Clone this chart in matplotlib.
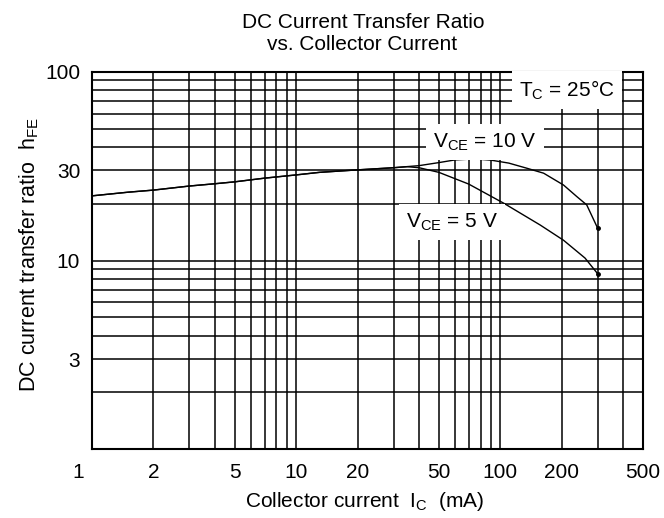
import matplotlib
matplotlib.use("Agg")
import matplotlib.pyplot as plt
from matplotlib.transforms import ScaledTranslation

plt.rcParams['font.family'] = ['Liberation Sans', 'DejaVu Sans']
plt.rcParams['mathtext.fontset'] = 'custom'
plt.rcParams['mathtext.rm'] = 'Liberation Sans'
plt.rcParams['mathtext.it'] = 'Liberation Sans:italic'

# Curvas (Ic en mA, hFE)
ic_5v = [1, 1.5, 2, 3, 4, 5, 7, 10, 13, 20, 30, 35, 40, 50, 70, 104, 157, 204, 260, 300]
hfe_5v = [22.0, 23.0, 23.6, 24.8, 25.5, 26.1, 27.3, 28.4, 29.3, 30.2, 31.0, 31.4, 31.0,
          29.3, 25.4, 20.1, 15.4, 12.8, 10.3, 8.5]

ic_10v = [1, 1.5, 2, 3, 4, 5, 7, 10, 13, 20, 30, 40, 50, 60, 75, 90, 110, 135, 163,
          204, 237, 265, 300]
hfe_10v = [22.0, 23.0, 23.6, 24.8, 25.5, 26.1, 27.3, 28.4, 29.3, 30.2, 31.0, 31.8, 33.0,
           34.1, 34.5, 34.0, 32.8, 30.8, 29.0, 25.1, 21.8, 19.7, 14.8]

x_ticks = [1, 2, 5, 10, 20, 50, 100, 200, 500]
y_ticks = [3, 10, 30, 100]
x_minor = [m * d for d in (1, 10, 100) for m in range(1, 10) if m * d <= 500]
y_minor = [m * d for d in (1, 10) for m in range(1, 11)]

fig = plt.figure(figsize=(6.64, 5.18), dpi=100)
ax = fig.add_axes([0.1386, 0.1326, 0.8298, 0.729])

ax.plot(ic_10v, hfe_10v, color='black', lw=1.0, zorder=4)
ax.plot(ic_5v, hfe_5v, color='black', lw=1.0, zorder=4)
ax.plot([ic_10v[-1], ic_5v[-1]], [hfe_10v[-1], hfe_5v[-1]], 'o', color='black',
        ms=2.5, zorder=5)

ax.set_xscale('log')
ax.set_yscale('log')
ax.set_xlim(1, 500)
ax.set_ylim(1, 100)

ax.set_xticks(x_minor, minor=True)
ax.set_yticks(y_minor, minor=True)
ax.set_xticks(x_ticks)
ax.set_xticklabels([str(v) for v in x_ticks])
ax.set_yticks(y_ticks)
ax.set_yticklabels([str(v) for v in y_ticks])
ax.tick_params(which='both', length=0, labelsize=15)
ax.tick_params(axis='x', pad=9.5)
ax.tick_params(axis='y', pad=8.5)
ax.xaxis.set_minor_formatter(plt.NullFormatter())
ax.yaxis.set_minor_formatter(plt.NullFormatter())
ax.grid(True, which='both', color='black', lw=1.1)
for s in ax.spines.values():
    s.set_linewidth(1.5)

# la etiqueta "1" esta corrida a la izquierda en el original
lbl = ax.get_xticklabels()[0]
lbl.set_transform(lbl.get_transform() + ScaledTranslation(-0.14, 0, fig.dpi_scale_trans))

ax.set_xlabel(r'Collector current  $\mathrm{I_C}$  (mA)', fontsize=15)
ax.xaxis.set_label_coords(0.494, -0.108)
ax.set_ylabel(r'DC current transfer ratio  $\mathrm{h_{FE}}$', fontsize=15.5)
ax.yaxis.set_label_coords(-0.093, 0.516)

box = dict(facecolor='white', edgecolor='none', boxstyle='square,pad=0.35')
ax.text(0.862, 0.951, r'$\mathrm{T_C}$ = 25°C', transform=ax.transAxes, fontsize=15,
        ha='center', va='center', bbox=box, zorder=6)
ax.text(0.713, 0.814, r'$\mathrm{V_{CE}}$ = 10 V', transform=ax.transAxes, fontsize=15,
        ha='center', va='center', bbox=box, zorder=6)
ax.text(0.653, 0.602, r'$\mathrm{V_{CE}}$ = 5 V', transform=ax.transAxes, fontsize=15,
        ha='center', va='center', bbox=box, zorder=6)

fig.text(0.547, 0.946, 'DC Current Transfer Ratio', fontsize=15,
         ha='center', va='baseline')
fig.text(0.545, 0.9035, 'vs. Collector Current', fontsize=15,
         ha='center', va='baseline')

fig.savefig('out.png', dpi=100)
